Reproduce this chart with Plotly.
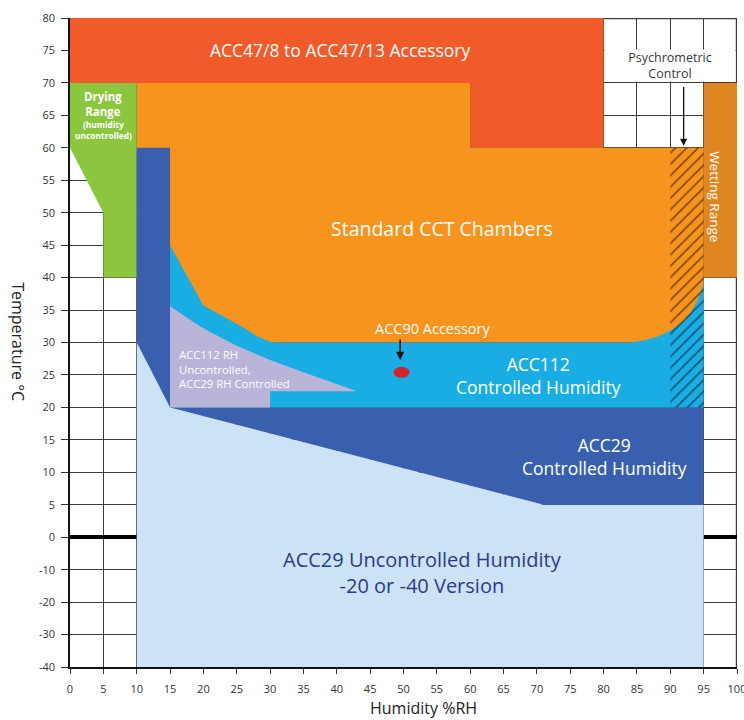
import plotly.graph_objects as go

# ---------------- data (humidity %RH, temperature degC) ----------------
red_x = [0, 80, 80, 60, 60, 0]
red_y = [80, 80, 60, 60, 70, 70]

orange_x = [10, 60, 60, 95, 95, 10]
orange_y = [70, 70, 60, 60, 30, 30]

green_x = [0, 10, 10, 5, 5, 0]
green_y = [70, 70, 40, 40, 50, 60]

wetting_x = [95, 100, 100, 95]
wetting_y = [70, 70, 40, 40]

lightblue_x = [10, 95, 95, 71, 15, 10]
lightblue_y = [-40, -40, 5, 5, 20, 30]

darkblue_x = [10, 15, 15, 95, 95, 71, 15, 10]
darkblue_y = [60, 60, 20, 20, 5, 5, 20, 30]

cyan_x = [15, 20, 22, 24, 26, 28, 30, 31, 84, 86, 88, 90, 92, 93, 94, 95, 95, 15]
cyan_y = [45, 35.7, 34.6, 33.5, 32.3, 31.0, 30.1, 30, 30, 30.3, 30.9, 31.8, 33.3, 34.5, 36.3, 39, 20, 20]

lav_x = [15, 17, 19, 21, 23, 25, 27, 30, 35, 40, 43, 30, 30, 15]
lav_y = [35.6, 34.2, 32.8, 31.6, 30.5, 29.5, 28.6, 27.3, 25.4, 23.6, 22.5, 22.5, 20, 20]

hatch_x = [90, 95, 95, 90]
hatch_y = [20, 20, 60, 60]

acc90_point = (49.7, 25.4)

x_ticks = list(range(0, 101, 5))
y_tick_values = [-40, -30, -20, -10, 0, 5, 10, 15, 20, 25, 30, 35, 40, 45, 50, 55, 60, 65, 70, 75, 80]
y_tick_labels = [str(v) for v in y_tick_values]


# negative temperatures are drawn at half scale on the reference axis
def ty(v):
    return v if v >= 0 else v / 2.0


def tys(vals):
    return [ty(v) for v in vals]


FONT = "Open Sans"
GRID = "#3c3c3c"

fig = go.Figure()


def poly(xs, ys, color, name):
    fig.add_trace(go.Scatter(
        x=xs + [xs[0]], y=tys(ys + [ys[0]]), mode="lines", fill="toself",
        fillcolor=color, line=dict(width=0, color=color), name=name,
        hoverinfo="skip", showlegend=False))


poly(red_x, red_y, "#F15A29", "ACC47")
poly(orange_x, orange_y, "#F7941E", "Standard")
poly(green_x, green_y, "#8CC63F", "Drying")
poly(wetting_x, wetting_y, "#DF8620", "Wetting")
poly(lightblue_x, lightblue_y, "#CCE3F5", "ACC29 unc")
poly(darkblue_x, darkblue_y, "#3A5FAE", "ACC29 ctrl")
poly(cyan_x, cyan_y, "#19ADE4", "ACC112")
poly(lav_x, lav_y, "#B9B5D9", "ACC112 RH unc")

fig.add_trace(go.Scatter(
    x=hatch_x + [hatch_x[0]], y=tys(hatch_y + [hatch_y[0]]), mode="lines", fill="toself",
    fillcolor="rgba(0,0,0,0)", line=dict(width=0),
    fillpattern=dict(shape="/", fgcolor="#000000", bgcolor="rgba(0,0,0,0)", size=8, solidity=0.2),
    hoverinfo="skip", showlegend=False))

# ACC90 point (ellipse)
fig.add_shape(type="circle", xref="x", yref="y",
              xsizemode="pixel", ysizemode="pixel",
              xanchor=acc90_point[0], yanchor=ty(acc90_point[1]),
              x0=-8, x1=8, y0=-5.5, y1=5.5,
              fillcolor="#D2232A", line=dict(width=0), layer="above")

# outer grid lines at the right and top edges (plotly drops edge gridlines)
fig.add_shape(type="line", xref="x", yref="y", x0=100, x1=100, y0=ty(-40), y1=ty(80),
              line=dict(color=GRID, width=2.4), layer="below")
fig.add_shape(type="line", xref="x", yref="y", x0=0, x1=100, y0=ty(80), y1=ty(80),
              line=dict(color=GRID, width=2.4), layer="below")

W = "white"
ann = []


def txt(x, y, t, size, color=W, **kw):
    d = dict(x=x, y=ty(y), xref="x", yref="y", text=t, showarrow=False,
             font=dict(family=FONT, size=size, color=color))
    d.update(kw)
    ann.append(d)


txt(40.5, 75, "ACC47/8 to ACC47/13 Accessory", 17.5)
txt(5, 66.7, "<b>Drying<br>Range</b>", 11.5)
txt(5, 62.8, "<b>(humidity<br>uncontrolled)</b>", 8.4)
txt(55.7, 47.6, "Standard CCT Chambers", 19.5)
txt(54.4, 32.2, "ACC90 Accessory", 14.5)
txt(70.2, 24.9, "ACC112<br>Controlled Humidity", 17.5)
txt(16, 25.9, "ACC112 RH<br>Uncontrolled,<br>ACC29 RH Controlled", 11.3, xanchor="left", align="left")
txt(80.2, 12.5, "ACC29<br>Controlled Humidity", 17.5)
txt(52.9, -11, "ACC29 Uncontrolled Humidity<br>-20 or -40 Version", 20, color="#2B3A8F")
txt(96.7, 52.4, "Wetting Range", 13.5, textangle=90)
txt(90, 72.7, "Psychrometric<br>Control", 12.5, color="#3a3a3a",
    bgcolor="white", width=128, height=29)

# arrows
ann.append(dict(x=49.5, y=ty(27.3), ax=49.5, ay=ty(30.7), xref="x", yref="y", axref="x", ayref="y",
                showarrow=True, arrowhead=2, arrowsize=1.1, arrowwidth=1.5, arrowcolor="#111", text=""))
ann.append(dict(x=92, y=ty(60.3), ax=92, ay=ty(69.6), xref="x", yref="y", axref="x", ayref="y",
                showarrow=True, arrowhead=2, arrowsize=1.1, arrowwidth=1.3, arrowcolor="#111", text=""))

# axis titles
ann.append(dict(x=0, y=ty(30.2), xref="paper", yref="y", xshift=-52, xanchor="center", yanchor="middle",
                text="Temperature °C", showarrow=False, textangle=90,
                font=dict(family=FONT, size=16, color="#222")))
ann.append(dict(x=53, y=0, xref="x", yref="paper", yshift=-41, yanchor="middle", text="Humidity %RH",
                showarrow=False, font=dict(family=FONT, size=16, color="#222")))

fig.update_layout(
    width=744, height=720,
    margin=dict(l=70, r=7, t=18, b=53, autoexpand=False),
    paper_bgcolor="white", plot_bgcolor="white",
    annotations=ann, showlegend=False,
    font=dict(family=FONT, color="#333"),
)
fig.update_xaxes(range=[0, 100], tickvals=x_ticks, showgrid=True, gridcolor=GRID, gridwidth=1.2,
                 showline=True, linecolor="#111", linewidth=1.5, ticks="outside", ticklen=5,
                 tickcolor="#333", tickwidth=1.2, tickfont=dict(size=11, color="#333"),
                 zeroline=False, ticklabelstandoff=6, ticklabeloverflow="allow", automargin=False)
fig.update_yaxes(range=[-20, 80], tickvals=tys(y_tick_values), ticktext=y_tick_labels,
                 showgrid=True, gridcolor=GRID, gridwidth=1.2,
                 showline=True, linecolor="#111", linewidth=1.5, ticks="outside", ticklen=7,
                 tickcolor="#333", tickwidth=1.2, tickfont=dict(size=11, color="#333"),
                 zeroline=True, zerolinecolor="#000", zerolinewidth=3.5, ticklabelstandoff=4,
                 ticklabeloverflow="allow", automargin=False)

fig.write_html("out.html", config={"displayModeBar": False},
               post_script="document.body.style.margin='0px';")
